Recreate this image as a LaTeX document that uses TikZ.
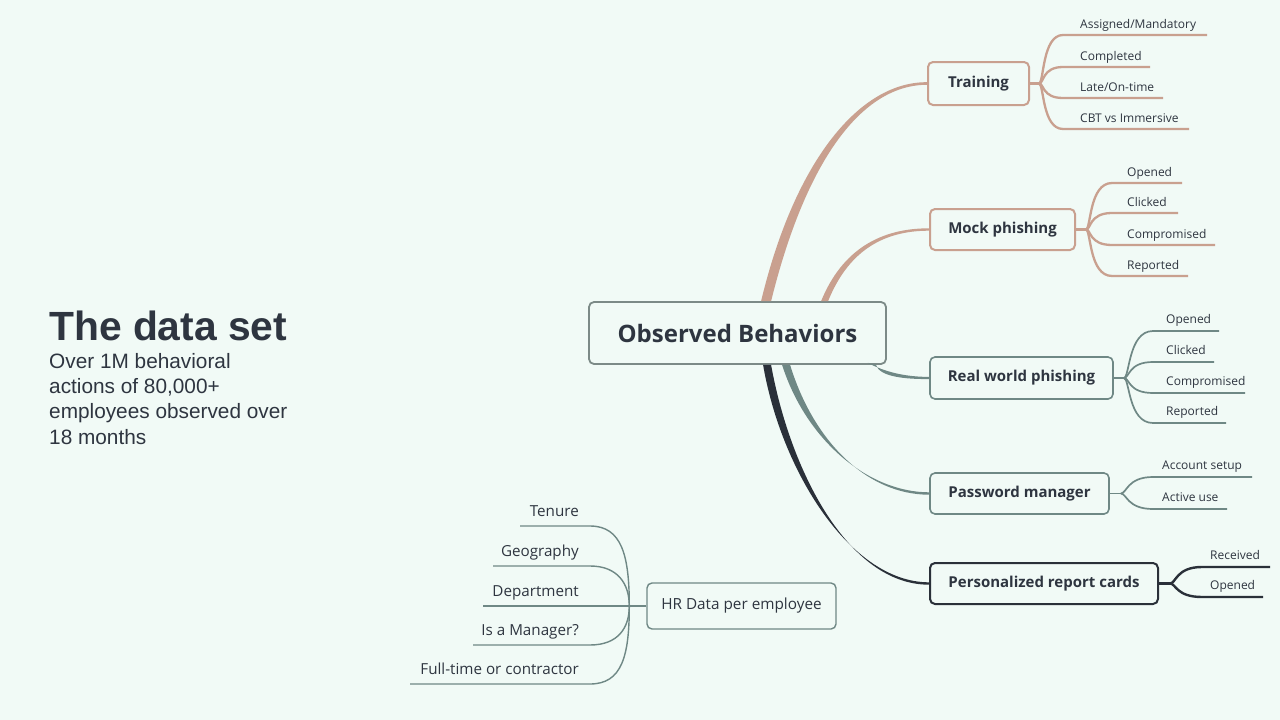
\documentclass[tikz,border=0pt]{standalone}
\usepackage{fontspec}
\setmainfont{Open Sans}
\newfontfamily\titlefont{Liberation Sans}
\usetikzlibrary{calc}
\definecolor{bg}{HTML}{F1FAF6}
\definecolor{ink}{HTML}{2E3540}
\definecolor{tanc}{HTML}{C9A08F}
\definecolor{tealc}{HTML}{6F8885}
\definecolor{darkc}{HTML}{2A3039}
\definecolor{obc}{HTML}{7C8A87}
\tikzset{
  box/.style={draw, rounded corners=5pt, inner sep=0pt, align=center, text=ink},
  tanbox/.style={box, draw=tanc, line width=2pt, font=\fontsize{15}{18}\selectfont\bfseries},
  graybox/.style={box, draw=tealc, line width=1.6pt, font=\fontsize{15}{18}\selectfont\bfseries},
  darkbox/.style={box, draw=darkc, line width=2pt, font=\fontsize{15}{18}\selectfont\bfseries},
  hrbox/.style={box, draw=tealc, line width=1.4pt, font=\fontsize{15.3}{18}\selectfont},
  leaf/.style={inner sep=0pt, anchor=base west, text=ink, font=\fontsize{12}{14}\selectfont},
  hrleaf/.style={inner sep=0pt, anchor=base east, text=ink, font=\fontsize{15.2}{18}\selectfont},
  tanline/.style={draw=tanc, line width=2.3pt},
  grayline/.style={draw=tealc, line width=1.7pt},
  darkline/.style={draw=darkc, line width=2.4pt},
  hrline/.style={draw=tealc, line width=1.4pt},
}
\begin{document}
\begin{tikzpicture}[x=1pt,y=-1pt]
\fill[bg] (0,0) rectangle (1280,720);
\useasboundingbox (0,0) rectangle (1280,720);

% Title block
\node[inner sep=0pt, anchor=base west, text=ink, font=\titlefont\fontsize{40.8}{44}\selectfont\bfseries] (title) at (49,340) {The data set};
\node[inner sep=0pt, anchor=base west, text=ink, align=left, font=\titlefont\fontsize{20.8}{25.4}\selectfont] (sub) at (49,444.2)
  {Over 1M behavioral\\actions of 80,000+\\employees observed over\\18 months};

% Central node
\node[box, draw=obc, line width=1.8pt, minimum width=297pt, minimum height=62pt, font=\fontsize{24}{28}\selectfont\bfseries] (ob) at (737.5,333) {Observed Behaviors};

% Branch nodes
\node[tanbox, minimum width=101pt, minimum height=43pt] (tr) at (978.5,83.5) {Training};
\node[tanbox, minimum width=145pt, minimum height=41pt] (mp) at (1002.5,229.5) {Mock phishing};
\node[graybox, minimum width=183pt, minimum height=42pt] (rw) at (1021.5,378) {Real world phishing};
\node[graybox, minimum width=179pt, minimum height=41pt] (pm) at (1019.5,493.5) {Password manager};
\node[darkbox, minimum width=228pt, minimum height=41pt] (rc) at (1044,583.5) {Personalized report cards};
\node[hrbox, minimum width=189pt, minimum height=46pt] (hr) at (741.5,606) {HR Data per employee};

% Main tapered connectors
\fill[tanc] ($(ob.north west)+(173,0)$) .. controls (795,160) and (860,81.8) .. ($(tr.west)+(0,-1.3)$)
  -- ($(tr.west)+(0,1.3)$) .. controls (862,84.8) and (806,160) .. ($(ob.north west)+(183,0)$) -- cycle;
\fill[tanc] ($(mp.west)+(0,-1.2)$) .. controls (880,228.3) and (842,250) .. ($(ob.north west)+(233,0)$)
  -- ($(ob.north west)+(240,0)$) .. controls (848,252) and (882,230.7) .. ($(mp.west)+(0,1.2)$) -- cycle;
\fill[tealc] ($(ob.south east)+(-19,-2)$) .. controls (885,372) and (905,376.9) .. ($(rw.west)+(0,-1.1)$)
  -- ($(rw.west)+(0,1.1)$) .. controls (905,379.1) and (880,377) .. ($(ob.south east)+(-11,0)$) -- cycle;
\fill[tealc] ($(ob.south west)+(194,0)$) .. controls (806,440) and (868,492.3) .. ($(pm.west)+(0,-1.2)$)
  -- ($(pm.west)+(0,1.2)$) .. controls (866,494.7) and (813,440) .. ($(ob.south west)+(202,0)$) -- cycle;
\fill[darkc] ($(ob.south west)+(175,0)$) .. controls (781,470) and (850,582.3) .. ($(rc.west)+(0,-1.2)$)
  -- ($(rc.west)+(0,1.2)$) .. controls (848,584.7) and (790,470) .. ($(ob.south west)+(183,0)$) -- cycle;

% ---------- Training children
\coordinate (trj) at ($(tr.east)+(9,0)$);
\draw[tanline] (tr.east) -- (trj);
\coordinate (tr1) at (1063,35);  \coordinate (tr1e) at (1207,35);
\coordinate (tr2) at (1063,67);  \coordinate (tr2e) at (1150,67);
\coordinate (tr3) at (1063,98);  \coordinate (tr3e) at (1163,98);
\coordinate (tr4) at (1063,129); \coordinate (tr4e) at (1189,129);
\foreach \c in {tr1,tr2,tr3,tr4}{
  \draw[tanline] (trj) .. controls ($(trj)+(5,0)$) and ($(\c)+(-21,0)$) .. (\c) -- (\c e);
}
\node[leaf] (tr1l) at ($(tr1)+(17,-7)$) {Assigned/Mandatory};
\node[leaf] (tr2l) at ($(tr2)+(17,-7)$) {Completed};
\node[leaf] (tr3l) at ($(tr3)+(17,-7)$) {Late/On-time};
\node[leaf] (tr4l) at ($(tr4)+(17,-7)$) {CBT vs Immersive};

% ---------- Mock phishing children
\coordinate (mpj) at ($(mp.east)+(10,0)$);
\draw[tanline] (mp.east) -- (mpj);
\coordinate (mp1) at (1112,183); \coordinate (mp1e) at (1182,183);
\coordinate (mp2) at (1112,213); \coordinate (mp2e) at (1178,213);
\coordinate (mp3) at (1112,245); \coordinate (mp3e) at (1215,245);
\coordinate (mp4) at (1112,276); \coordinate (mp4e) at (1188,276);
\foreach \c in {mp1,mp2,mp3,mp4}{
  \draw[tanline] (mpj) .. controls ($(mpj)+(5,0)$) and ($(\c)+(-23,0)$) .. (\c) -- (\c e);
}
\node[leaf] (mp1l) at ($(mp1)+(15,-7)$) {Opened};
\node[leaf] (mp2l) at ($(mp2)+(15,-7)$) {Clicked};
\node[leaf] (mp3l) at ($(mp3)+(15,-7)$) {Compromised};
\node[leaf] (mp4l) at ($(mp4)+(15,-7)$) {Reported};

% ---------- Real world phishing children
\coordinate (rwj) at ($(rw.east)+(10,0)$);
\draw[grayline] (rw.east) -- (rwj);
\coordinate (rw1) at (1153,331); \coordinate (rw1e) at (1219,331);
\coordinate (rw2) at (1153,362); \coordinate (rw2e) at (1214,362);
\coordinate (rw3) at (1153,393); \coordinate (rw3e) at (1245,393);
\coordinate (rw4) at (1153,423); \coordinate (rw4e) at (1226,423);
\foreach \c in {rw1,rw2,rw3,rw4}{
  \draw[grayline] (rwj) .. controls ($(rwj)+(6,0)$) and ($(\c)+(-25,0)$) .. (\c) -- (\c e);
}
\node[leaf] (rw1l) at ($(rw1)+(13,-8)$) {Opened};
\node[leaf] (rw2l) at ($(rw2)+(13,-8)$) {Clicked};
\node[leaf] (rw3l) at ($(rw3)+(13,-8)$) {Compromised};
\node[leaf] (rw4l) at ($(rw4)+(13,-8)$) {Reported};

% ---------- Password manager children
\coordinate (pmj) at ($(pm.east)+(11,0)$);
\draw[grayline] (pm.east) -- (pmj);
\coordinate (pm1) at (1153,477); \coordinate (pm1e) at (1252,477);
\coordinate (pm2) at (1153,509); \coordinate (pm2e) at (1227,509);
\foreach \c in {pm1,pm2}{
  \draw[grayline] (pmj) .. controls ($(pmj)+(6,0)$) and ($(\c)+(-26,0)$) .. (\c) -- (\c e);
}
\node[leaf] (pm1l) at ($(pm1)+(9,-8)$) {Account setup};
\node[leaf] (pm2l) at ($(pm2)+(9,-8)$) {Active use};

% ---------- Report cards children
\coordinate (rcj) at ($(rc.east)+(11,0)$);
\draw[darkline] (rc.east) -- (rcj);
\coordinate (rc1) at (1202,567); \coordinate (rc1e) at (1270,567);
\coordinate (rc2) at (1202,597); \coordinate (rc2e) at (1263,597);
\foreach \c in {rc1,rc2}{
  \draw[darkline] (rcj) .. controls ($(rcj)+(6,0)$) and ($(\c)+(-26,0)$) .. (\c) -- (\c e);
}
\node[leaf] (rc1l) at ($(rc1)+(8,-8)$) {Received};
\node[leaf] (rc2l) at ($(rc2)+(8,-8)$) {Opened};

% ---------- HR children
\coordinate (hrj) at ($(hr.west)+(-17,0)$);
\draw[hrline] (hr.west) -- (hrj);
\coordinate (hr1) at (590,526); \coordinate (hr1e) at (520,526);
\coordinate (hr2) at (590,566); \coordinate (hr2e) at (493,566);
\coordinate (hr3) at (590,606); \coordinate (hr3e) at (483,606);
\coordinate (hr4) at (590,645); \coordinate (hr4e) at (473,645);
\coordinate (hr5) at (590,684); \coordinate (hr5e) at (410,684);
\draw[hrline] (hrj) .. controls ($(hrj)+(0,-50)$) and ($(hr1)+(32,0)$) .. (hr1) -- (hr1e);
\draw[hrline] (hrj) .. controls ($(hrj)+(0,-22)$) and ($(hr2)+(28,0)$) .. (hr2) -- (hr2e);
\draw[hrline] (hrj) -- (hr3) -- (hr3e);
\draw[hrline] (hrj) .. controls ($(hrj)+(0,22)$) and ($(hr4)+(28,0)$) .. (hr4) -- (hr4e);
\draw[hrline] (hrj) .. controls ($(hrj)+(0,50)$) and ($(hr5)+(32,0)$) .. (hr5) -- (hr5e);
\node[hrleaf] (hr1l) at ($(hr1)+(-11,-10)$) {Tenure};
\node[hrleaf] (hr2l) at ($(hr2)+(-11,-10)$) {Geography};
\node[hrleaf] (hr3l) at ($(hr3)+(-11,-10)$) {Department};
\node[hrleaf] (hr4l) at ($(hr4)+(-11,-10)$) {Is a Manager?};
\node[hrleaf] (hr5l) at ($(hr5)+(-11,-10)$) {Full-time or contractor};
\end{tikzpicture}
\end{document}
